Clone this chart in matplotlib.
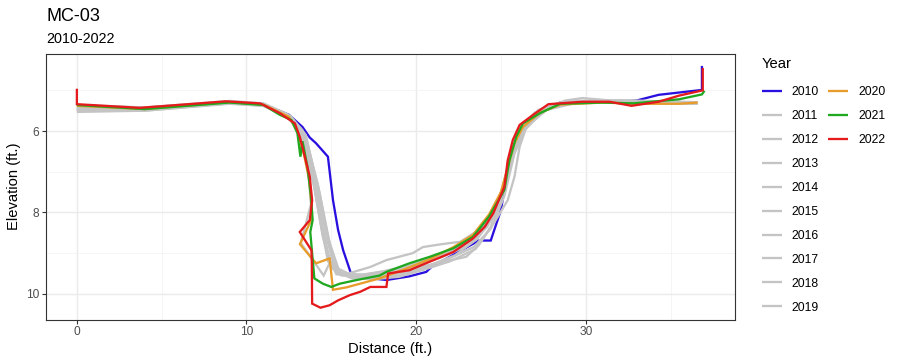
import matplotlib
matplotlib.use("Agg")
import matplotlib.pyplot as plt
from matplotlib.lines import Line2D

plt.rcParams['font.family'] = ['Liberation Sans', 'DejaVu Sans']

years = [2010, 2011, 2012, 2013, 2014, 2015, 2016, 2017, 2018, 2019, 2020, 2021, 2022]
colors = ['#2A10E0'] + ['#C4C4C4'] * 9 + ['#E89C2C', '#20A820', '#E41A1C']

d2010 = [0, 4, 9, 11, 12.5, 13.3, 13.73, 14.1, 14.8, 15.1, 15.4, 15.7, 16.0, 16.2, 17.0, 18.25, 19.6, 20.6, 20.9, 23.7, 24.4, 25.0, 25.3, 25.7, 26.2, 27.4, 28.5, 31.0, 33.0, 34.3, 36.85, 36.85]
e2010 = [5.48, 5.47, 5.30, 5.35, 5.60, 5.90, 6.16, 6.30, 6.63, 7.70, 8.43, 8.93, 9.30, 9.55, 9.60, 9.66, 9.57, 9.46, 9.34, 8.69, 8.69, 7.94, 7.20, 6.40, 6.02, 5.48, 5.30, 5.30, 5.25, 5.11, 4.99, 4.40]

d2011 = [0, 4, 9, 11, 12.4, 13.2, 13.9, 14.5, 15.0, 15.6, 17.0, 18.5, 20.0, 21.5, 23.0, 24.2, 25.0, 25.6, 26.2, 27.3, 29.0, 31.0, 33.5, 36.6]
e2011 = [5.44, 5.47, 5.30, 5.36, 5.62, 6.00, 7.10, 8.40, 9.35, 9.55, 9.58, 9.50, 9.32, 9.10, 8.82, 8.35, 7.60, 6.60, 6.00, 5.52, 5.30, 5.28, 5.30, 5.32]

d2012 = [0, 4, 9, 11, 12.6, 13.4, 14.2, 14.8, 15.4, 16.2, 17.5, 19.0, 20.5, 22.0, 23.5, 24.6, 25.4, 25.8, 26.1, 26.5, 27.7, 29.5, 32.0, 34.5, 36.6]
e2012 = [5.50, 5.50, 5.32, 5.38, 5.66, 6.05, 7.30, 8.60, 9.45, 9.62, 9.64, 9.58, 9.40, 9.20, 8.90, 8.25, 7.70, 7.12, 6.39, 5.90, 5.48, 5.30, 5.25, 5.28, 5.30]

d2013 = [0, 4, 9, 11, 12.3, 13.3, 14.0, 14.5, 15.0, 16.0, 17.3, 18.25, 19.8, 20.4, 21.5, 22.6, 23.7, 24.5, 25.2, 25.8, 26.5, 27.5, 29.5, 32.0, 34.5, 36.6]
e2013 = [5.38, 5.42, 5.28, 5.33, 5.60, 6.10, 7.40, 8.60, 9.30, 9.50, 9.34, 9.17, 9.00, 8.85, 8.78, 8.72, 8.43, 8.00, 7.30, 6.40, 5.85, 5.45, 5.26, 5.25, 5.28, 5.30]

d2014 = [0, 4, 9, 11, 12.5, 13.4, 14.1, 14.7, 15.2, 16.0, 17.5, 19.0, 21.2, 22.95, 23.7, 24.4, 25.1, 25.7, 26.3, 27.4, 29.0, 31.5, 34.0, 36.6]
e2014 = [5.46, 5.48, 5.31, 5.37, 5.64, 6.08, 7.35, 8.55, 9.40, 9.56, 9.55, 9.45, 9.25, 9.09, 8.80, 8.35, 7.55, 6.55, 5.95, 5.50, 5.30, 5.30, 5.27, 5.31]

d2015 = [0, 4, 9, 11, 12.4, 13.2, 13.8, 14.3, 14.8, 15.5, 17.0, 18.5, 20.0, 21.5, 23.0, 24.0, 24.8, 25.4, 26.0, 27.0, 28.5, 31.0, 33.5, 36.6]
e2015 = [5.40, 5.44, 5.27, 5.34, 5.60, 6.02, 6.90, 8.10, 9.20, 9.50, 9.53, 9.42, 9.28, 9.05, 8.75, 8.40, 7.80, 6.90, 6.10, 5.55, 5.32, 5.27, 5.26, 5.30]

d2016 = [0, 4, 9, 11, 12.5, 13.5, 14.3, 14.9, 15.5, 16.3, 17.8, 19.3, 20.8, 22.3, 23.6, 24.5, 25.2, 25.7, 26.3, 27.3, 28.8, 29.8, 31.5, 34.0, 36.6]
e2016 = [5.53, 5.50, 5.33, 5.38, 5.65, 6.15, 7.50, 8.75, 9.48, 9.60, 9.58, 9.48, 9.30, 9.05, 8.65, 8.15, 7.40, 6.50, 5.95, 5.48, 5.25, 5.19, 5.25, 5.28, 5.31]

d2017 = [0, 4, 9, 11, 12.4, 13.3, 13.9, 14.4, 14.9, 15.6, 17.0, 18.6, 20.2, 21.8, 23.2, 24.2, 24.9, 25.5, 26.1, 27.2, 28.8, 31.0, 33.5, 36.6]
e2017 = [5.36, 5.42, 5.26, 5.32, 5.58, 5.98, 7.00, 8.30, 9.25, 9.52, 9.55, 9.46, 9.22, 8.98, 8.70, 8.30, 7.70, 6.75, 6.00, 5.48, 5.28, 5.25, 5.26, 5.29]

d2018 = [0, 4, 9, 11, 12.6, 13.5, 14.2, 14.8, 15.3, 16.0, 17.5, 19.0, 20.6, 22.0, 23.4, 24.4, 25.2, 25.8, 26.4, 27.5, 29.0, 31.5, 34.0, 36.6]
e2018 = [5.42, 5.46, 5.29, 5.35, 5.63, 6.10, 7.40, 8.70, 9.42, 9.58, 9.62, 9.55, 9.35, 9.12, 8.85, 8.40, 7.60, 6.55, 5.98, 5.50, 5.30, 5.28, 5.29, 5.32]

d2019 = [0, 4, 9, 11, 12.4, 13.1, 13.6, 13.8, 13.2, 14.55, 14.95, 15.3, 16.5, 18.0, 19.6, 21.0, 22.4, 23.5, 24.4, 25.1, 25.6, 26.1, 27.0, 28.5, 31.0, 33.5, 36.6]
e2019 = [5.40, 5.45, 5.30, 5.35, 5.62, 6.00, 6.80, 7.80, 8.75, 9.55, 9.20, 9.52, 9.55, 9.45, 9.30, 9.12, 8.88, 8.58, 8.10, 7.45, 6.70, 6.00, 5.55, 5.33, 5.30, 5.32, 5.33]

d2020 = [0, 4, 9, 11, 12.5, 13.0, 13.4, 13.7, 13.85, 13.8, 13.15, 14.1, 14.9, 15.1, 15.9, 17.85, 19.6, 20.8, 22.2, 23.35, 24.3, 25.0, 25.4, 25.8, 26.3, 27.3, 28.5, 31.0, 33.0, 35.5, 36.6]
e2020 = [5.38, 5.46, 5.29, 5.35, 5.65, 6.00, 6.60, 7.20, 7.90, 8.20, 8.78, 9.25, 9.13, 9.90, 9.84, 9.62, 9.35, 9.15, 8.85, 8.55, 8.05, 7.50, 6.90, 6.30, 5.90, 5.55, 5.35, 5.30, 5.33, 5.33, 5.30]

d2021 = [0, 4, 9, 11, 11.96, 12.65, 13.0, 13.18, 13.3, 13.6, 13.8, 13.9, 13.76, 14.0, 14.5, 15.0, 15.5, 16.5, 17.85, 18.25, 19.6, 20.8, 22.2, 23.35, 24.3, 25.2, 25.5, 25.9, 26.3, 27.3, 28.5, 31.0, 32.8, 35.5, 36.85, 37.0]
e2021 = [5.36, 5.46, 5.30, 5.36, 5.60, 5.73, 6.05, 6.63, 6.25, 6.90, 7.60, 8.19, 8.48, 9.62, 9.75, 9.83, 9.75, 9.66, 9.55, 9.46, 9.25, 9.09, 8.88, 8.60, 8.10, 7.45, 6.72, 6.14, 5.81, 5.56, 5.33, 5.30, 5.32, 5.22, 5.10, 5.01]

d2022 = [0, 0, 3.7, 8.8, 10.8, 11.96, 12.85, 13.14, 13.44, 13.73, 13.87, 13.73, 13.14, 13.83, 13.85, 13.87, 14.36, 14.9, 15.4, 16.1, 16.7, 17.3, 18.25, 18.35, 19.6, 20.8, 22.2, 23.35, 24.05, 24.55, 25.2, 25.4, 25.7, 26.1, 26.9, 27.8, 29.8, 31.4, 32.7, 34.3, 35.5, 36.9, 36.9]
e2022 = [4.96, 5.34, 5.43, 5.27, 5.32, 5.56, 5.81, 6.14, 6.63, 7.12, 7.70, 8.19, 8.48, 8.93, 9.25, 10.24, 10.34, 10.28, 10.16, 10.03, 9.95, 9.83, 9.83, 9.50, 9.42, 9.21, 8.97, 8.64, 8.35, 8.02, 7.37, 6.72, 6.22, 5.85, 5.60, 5.34, 5.28, 5.28, 5.38, 5.28, 5.13, 5.00, 4.45]

distances = [d2010, d2011, d2012, d2013, d2014, d2015, d2016, d2017, d2018, d2019, d2020, d2021, d2022]
elevations = [e2010, e2011, e2012, e2013, e2014, e2015, e2016, e2017, e2018, e2019, e2020, e2021, e2022]

x_ticks = [0, 10, 20, 30]
y_ticks = [6, 8, 10]

fig = plt.figure(figsize=(9, 3.63), dpi=100)
ax = fig.add_axes([45.5 / 900, 1 - 319.5 / 363, (735 - 45.5) / 900, (319.5 - 54) / 363])

handles = []
for yr, col, dx, ey in zip(years, colors, distances, elevations):
    h, = ax.plot(dx, ey, color=col, lw=1.65, solid_joinstyle='miter', solid_capstyle='butt', label=str(yr))
    handles.append(h)

ax.set_xlim(-1.85, 38.8)
ax.set_ylim(10.63, 4.107)
ax.set_xticks(x_ticks)
ax.set_xticklabels([str(v) for v in x_ticks])
ax.set_yticks(y_ticks)
ax.set_yticklabels([str(v) for v in y_ticks])
ax.set_xticks([5, 15, 25, 35], minor=True)
ax.set_yticks([5, 7, 9], minor=True)
ax.grid(which='major', color='#EBEBEB', lw=1.07)
ax.grid(which='minor', color='#F2F2F2', lw=0.55)
ax.set_axisbelow(True)
ax.tick_params(which='major', length=2.6, width=0.8, color='#333333', labelcolor='#4D4D4D', labelsize=8.6, pad=2.2)
ax.tick_params(which='minor', length=0)
for s in ax.spines.values():
    s.set_color('#333333')
    s.set_linewidth(0.8)

ax.set_xlabel('Distance (ft.)', fontsize=10.6, labelpad=2.5)
ax.set_ylabel('Elevation (ft.)', fontsize=10.6, labelpad=3.5)

fig.text(46 / 900, 1 - 20.7 / 363, 'MC-03', fontsize=13, va='baseline', ha='left')
fig.text(46 / 900, 1 - 43.3 / 363, '2010-2022', fontsize=10.4, va='baseline', ha='left')

blank = [Line2D([], [], color='none') for _ in range(7)]
leg_handles = handles[:10] + handles[10:] + blank
leg_labels = [str(y) for y in years[:10]] + [str(y) for y in years[10:]] + [''] * 7
leg = fig.legend(leg_handles, leg_labels, ncol=2, title='Year', loc='upper left',
                 bbox_to_anchor=(752 / 900, 1 - 47 / 363), frameon=False,
                 fontsize=8.8, title_fontsize=10.6, handlelength=1.64, handletextpad=0.82,
                 columnspacing=0.74, labelspacing=0.98, borderpad=0.3, alignment='left')
leg._legend_box.sep = 10.9

fig.savefig('out.png', dpi=100)
